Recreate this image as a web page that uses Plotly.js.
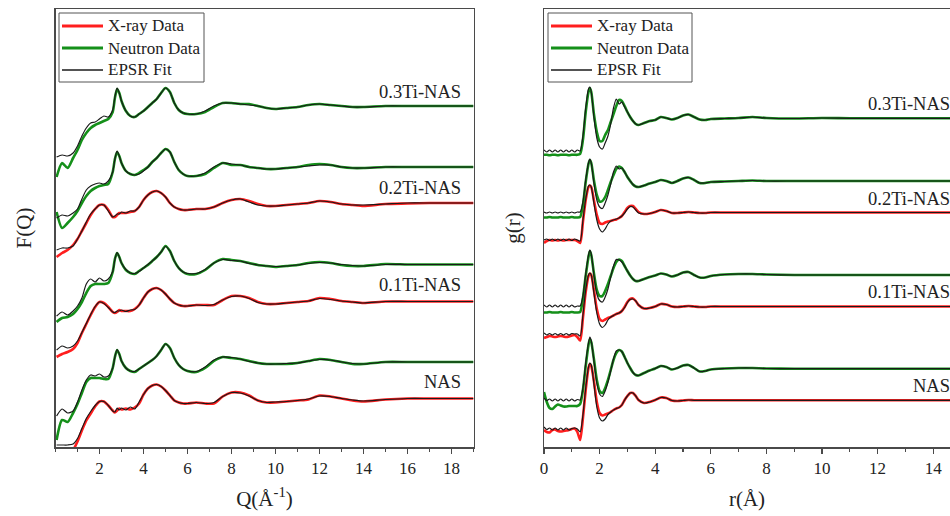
<!DOCTYPE html>
<html><head><meta charset="utf-8">
<script src="https://cdn.plot.ly/plotly-3.0.1.min.js"></script>
<style>html,body{margin:0;padding:0;background:#fff;}#chart{width:950px;height:516px;}</style>
</head><body><div id="chart"></div>
<script>
// ---------- categories ----------
const samples = ['0.3Ti-NAS', '0.2Ti-NAS', '0.1Ti-NAS', 'NAS'];
const legendNames = ['X-ray Data', 'Neutron Data', 'EPSR Fit'];

// ---------- F(Q) panel: Q grid (1/Angstrom) ----------
const Q = [0.05,0.3,0.55,0.8,1.0,1.2,1.4,1.6,1.8,2.0,2.2,2.4,2.6,2.7,2.8,2.9,3.0,3.2,3.4,3.6,3.8,4.0,4.2,4.4,4.6,4.8,5.0,5.2,5.4,5.6,5.8,6.0,6.4,6.8,7.2,7.6,8.0,8.4,8.8,9.2,9.6,10.0,10.5,11.0,11.5,12.0,12.5,13.0,13.5,14.0,15,16,17,18,19];

// 0.3Ti-NAS
const fqN_03 = [-0.71,-0.57,-0.62,-0.52,-0.44,-0.34,-0.27,-0.22,-0.19,-0.17,-0.15,-0.13,-0.06,0.08,0.17,0.13,0.05,-0.05,-0.10,-0.11,-0.08,-0.05,-0.01,0.03,0.07,0.13,0.18,0.14,0.03,-0.04,-0.07,-0.08,-0.08,-0.06,-0.01,0.03,0.03,0.02,0.02,0.00,-0.02,-0.03,-0.02,-0.01,0.01,0.02,0.01,0.00,-0.01,-0.01,0,0,0,0,0];
const fqFitN_03 = [-0.51,-0.49,-0.50,-0.47,-0.40,-0.30,-0.22,-0.17,-0.16,-0.13,-0.10,-0.11,-0.04,0.09,0.18,0.13,0.05,-0.05,-0.10,-0.11,-0.08,-0.05,-0.01,0.03,0.07,0.13,0.18,0.14,0.03,-0.04,-0.07,-0.08,-0.08,-0.05,0.00,0.03,0.03,0.02,0.01,0.00,-0.02,-0.03,-0.02,-0.01,0.01,0.02,0.01,0.00,-0.01,-0.01,0,0,0,0,0];
// 0.2Ti-NAS
const fqN_02 = [-0.45,-0.61,-0.56,-0.50,-0.44,-0.36,-0.29,-0.24,-0.21,-0.19,-0.18,-0.17,-0.05,0.08,0.15,0.11,0.04,-0.04,-0.07,-0.08,-0.06,-0.03,0.00,0.05,0.09,0.14,0.18,0.15,0.05,-0.03,-0.07,-0.09,-0.09,-0.07,-0.01,0.04,0.02,0.02,0.00,-0.01,-0.02,-0.02,-0.01,0.00,0.02,0.03,0.02,0.00,-0.01,-0.01,0,0,0,0,0];
const fqFitN_02 = [-0.51,-0.48,-0.49,-0.46,-0.42,-0.32,-0.23,-0.19,-0.17,-0.16,-0.17,-0.14,-0.05,0.08,0.16,0.11,0.04,-0.04,-0.07,-0.08,-0.07,-0.04,0.00,0.05,0.09,0.14,0.18,0.15,0.05,-0.03,-0.07,-0.09,-0.09,-0.06,0.00,0.04,0.03,0.02,0.00,-0.01,-0.02,-0.02,-0.01,0.00,0.01,0.02,0.02,0.00,-0.01,-0.01,0,0,0,0,0];
const fqX_02 = [-0.54,-0.50,-0.47,-0.42,-0.36,-0.28,-0.20,-0.12,-0.06,-0.02,-0.02,-0.07,-0.14,-0.14,-0.12,-0.10,-0.10,-0.10,-0.09,-0.08,-0.04,0.03,0.08,0.11,0.12,0.10,0.06,0.00,-0.04,-0.06,-0.07,-0.07,-0.06,-0.06,-0.04,0.00,0.03,0.04,0.02,-0.01,-0.03,-0.03,-0.02,-0.01,0.00,0.02,0.01,-0.01,-0.02,-0.03,-0.01,-0.005,0,0,0];
const fqFitX_02 = [-0.47,-0.45,-0.45,-0.43,-0.36,-0.28,-0.19,-0.11,-0.06,-0.02,-0.02,-0.08,-0.14,-0.13,-0.11,-0.11,-0.09,-0.10,-0.08,-0.08,-0.04,0.03,0.08,0.11,0.12,0.10,0.06,0.00,-0.04,-0.06,-0.07,-0.07,-0.06,-0.06,-0.04,0.00,0.03,0.04,0.01,-0.02,-0.03,-0.03,-0.02,-0.01,0.00,0.02,0.01,-0.01,-0.02,-0.02,-0.01,0,0,0,0];
// 0.1Ti-NAS
const fqN_01 = [-0.575,-0.535,-0.525,-0.495,-0.445,-0.375,-0.285,-0.215,-0.195,-0.195,-0.195,-0.185,-0.075,0.055,0.115,0.075,0.015,-0.055,-0.085,-0.095,-0.065,-0.035,-0.005,0.035,0.075,0.125,0.185,0.135,0.035,-0.035,-0.075,-0.095,-0.095,-0.055,0.015,0.055,0.045,0.035,0.015,-0.005,-0.015,-0.025,-0.015,-0.005,0.015,0.025,0.015,-0.005,-0.015,-0.015,0.005,0,0,0,0];
const fqFitN_01 = [-0.515,-0.475,-0.505,-0.465,-0.415,-0.335,-0.195,-0.145,-0.175,-0.135,-0.165,-0.145,-0.07,0.05,0.12,0.075,0.015,-0.05,-0.085,-0.09,-0.07,-0.035,0.00,0.035,0.075,0.125,0.18,0.135,0.035,-0.035,-0.075,-0.09,-0.09,-0.05,0.015,0.05,0.04,0.035,0.01,-0.005,-0.015,-0.02,-0.015,-0.005,0.01,0.02,0.015,0.00,-0.01,-0.015,0,0,0,0,0];
const fqX_01 = [-0.555,-0.525,-0.505,-0.475,-0.415,-0.315,-0.225,-0.135,-0.055,-0.005,-0.015,-0.055,-0.105,-0.115,-0.105,-0.085,-0.095,-0.095,-0.095,-0.075,-0.035,0.035,0.095,0.125,0.135,0.115,0.075,0.025,-0.015,-0.035,-0.045,-0.045,-0.035,-0.035,-0.035,0.015,0.055,0.055,0.035,-0.005,-0.025,-0.025,-0.015,-0.005,0.005,0.035,0.025,0.005,-0.005,-0.015,0,0,0,0,0];
const fqFitX_01 = [-0.485,-0.445,-0.465,-0.445,-0.395,-0.31,-0.22,-0.13,-0.05,-0.005,-0.02,-0.06,-0.105,-0.11,-0.095,-0.095,-0.085,-0.10,-0.085,-0.08,-0.035,0.035,0.095,0.125,0.135,0.115,0.075,0.025,-0.015,-0.035,-0.045,-0.045,-0.035,-0.04,-0.03,0.015,0.05,0.055,0.03,-0.01,-0.025,-0.025,-0.015,-0.005,0.005,0.03,0.02,0.005,-0.005,-0.015,0,0,0,0,0];
// NAS
const fqN_00 = [-0.78,-0.58,-0.60,-0.51,-0.42,-0.31,-0.20,-0.16,-0.16,-0.16,-0.17,-0.17,-0.06,0.05,0.12,0.08,0.01,-0.06,-0.09,-0.10,-0.07,-0.04,-0.01,0.02,0.06,0.12,0.18,0.14,0.04,-0.03,-0.07,-0.09,-0.10,-0.06,0.01,0.05,0.04,0.03,0.01,-0.01,-0.02,-0.02,-0.02,-0.01,0.01,0.03,0.02,0.00,-0.02,-0.02,0,0,0,0,0];
const fqFitN_00 = [-0.54,-0.47,-0.51,-0.49,-0.40,-0.28,-0.18,-0.13,-0.14,-0.12,-0.15,-0.14,-0.06,0.05,0.125,0.08,0.01,-0.06,-0.09,-0.095,-0.07,-0.04,-0.01,0.02,0.06,0.12,0.18,0.14,0.04,-0.03,-0.07,-0.09,-0.095,-0.05,0.02,0.05,0.045,0.03,0.005,-0.01,-0.02,-0.02,-0.015,-0.01,0.01,0.025,0.02,0.00,-0.015,-0.02,0,0,0,0,0];
const fqX_00 = [-0.82,-0.72,-0.62,-0.52,-0.43,-0.32,-0.22,-0.15,-0.08,-0.03,-0.03,-0.07,-0.12,-0.14,-0.12,-0.10,-0.11,-0.10,-0.11,-0.09,-0.05,0.04,0.10,0.13,0.14,0.12,0.08,0.03,-0.02,-0.04,-0.05,-0.05,-0.04,-0.05,-0.05,0.02,0.06,0.06,0.03,-0.02,-0.04,-0.04,-0.03,-0.02,-0.01,0.03,0.02,0.00,-0.02,-0.03,-0.01,0,0,0,0];
const fqFitX_00 = [-0.465,-0.465,-0.465,-0.455,-0.40,-0.30,-0.20,-0.13,-0.07,-0.03,-0.03,-0.07,-0.125,-0.135,-0.095,-0.115,-0.095,-0.115,-0.085,-0.105,-0.035,0.04,0.10,0.13,0.14,0.12,0.08,0.03,-0.02,-0.04,-0.05,-0.05,-0.04,-0.05,-0.04,0.02,0.06,0.055,0.025,-0.02,-0.04,-0.035,-0.03,-0.02,-0.005,0.025,0.02,0.00,-0.015,-0.025,-0.01,0,0,0,0];

// vertical stacking offsets of the F(Q) curves
const fqOffsetN = [3.41, 2.80, 1.825, 0.85];
const fqOffsetX = [null, 2.44, 1.455, 0.485];

// ---------- g(r) panel: r grid (Angstrom) ----------
const R = [0,0.1,0.2,0.3,0.4,0.5,0.6,0.7,0.8,0.9,1.0,1.1,1.2,1.3,1.4,1.5,1.6,1.65,1.7,1.8,1.9,2.0,2.1,2.2,2.3,2.4,2.5,2.6,2.7,2.8,2.9,3.0,3.1,3.2,3.3,3.4,3.6,3.8,4.0,4.2,4.4,4.6,4.8,5.0,5.2,5.4,5.6,5.8,6.0,6.5,7.0,7.5,8.0,9,10,11,12,13,14,15];

const grN_03 = [-0.365,-0.365,-0.37,-0.365,-0.365,-0.37,-0.365,-0.365,-0.365,-0.37,-0.365,-0.365,-0.365,-0.355,-0.215,0.063,0.263,0.303,0.263,0.033,-0.137,-0.227,-0.227,-0.167,-0.117,-0.037,0.043,0.123,0.183,0.173,0.123,0.063,0.013,-0.027,-0.057,-0.067,-0.047,-0.027,-0.017,0.013,0.003,-0.012,0.003,0.028,0.038,0.013,-0.012,-0.017,-0.007,-0.002,0.003,0.013,0.003,-0.002,0.003,0,0,0,0,0];
const grFitN_03 = [-0.317,-0.337,-0.317,-0.337,-0.317,-0.337,-0.317,-0.337,-0.317,-0.337,-0.317,-0.337,-0.317,-0.327,-0.177,0.103,0.293,0.313,0.263,0.003,-0.197,-0.287,-0.307,-0.247,-0.177,-0.057,0.103,0.193,0.143,0.163,0.113,0.063,0.013,-0.027,-0.057,-0.067,-0.047,-0.027,-0.017,0.013,0.003,-0.012,0.003,0.028,0.038,0.013,-0.012,-0.017,-0.007,-0.002,0.003,0.013,0.003,-0.002,0.003,0,0,0,0,0];

const grN_02 = [-0.365,-0.365,-0.36,-0.365,-0.365,-0.365,-0.36,-0.365,-0.365,-0.365,-0.36,-0.365,-0.365,-0.36,-0.24,-0.01,0.17,0.21,0.18,0.00,-0.14,-0.205,-0.20,-0.16,-0.09,-0.01,0.06,0.12,0.145,0.13,0.09,0.04,0.00,-0.035,-0.055,-0.06,-0.045,-0.025,-0.01,0.01,0.00,-0.02,0.00,0.025,0.035,0.01,-0.02,-0.02,-0.01,-0.005,0,0.005,0,0,0,0,0,0,0,0];
const grFitN_02 = [-0.31,-0.32,-0.31,-0.32,-0.31,-0.32,-0.31,-0.32,-0.31,-0.32,-0.31,-0.32,-0.31,-0.31,-0.21,0.01,0.18,0.22,0.18,-0.03,-0.19,-0.26,-0.275,-0.22,-0.14,-0.03,0.09,0.15,0.12,0.13,0.09,0.04,0.00,-0.035,-0.055,-0.06,-0.045,-0.025,-0.01,0.01,0.00,-0.02,0.00,0.025,0.035,0.01,-0.02,-0.02,-0.01,-0.005,0,0.005,0,0,0,0,0,0,0,0];
const grX_02 = [-0.305,-0.285,-0.275,-0.28,-0.275,-0.28,-0.275,-0.28,-0.275,-0.275,-0.275,-0.275,-0.285,-0.305,-0.095,0.125,0.255,0.27,0.255,0.115,-0.025,-0.105,-0.115,-0.10,-0.09,-0.085,-0.075,-0.07,-0.055,-0.035,0.005,0.045,0.065,0.065,0.035,0.005,-0.015,-0.01,0.005,0.025,0.015,-0.005,-0.005,0,0.005,0,-0.005,-0.005,0,0,0,0,0,0,0,0,0,0,0,0];
const grFitX_02 = [-0.275,-0.265,-0.28,-0.265,-0.28,-0.265,-0.28,-0.265,-0.28,-0.265,-0.28,-0.265,-0.275,-0.285,-0.075,0.135,0.265,0.275,0.255,0.085,-0.075,-0.165,-0.195,-0.165,-0.115,-0.085,-0.075,-0.065,-0.055,-0.035,-0.005,0.035,0.06,0.055,0.025,-0.005,-0.015,-0.01,0.005,0.025,0.015,-0.005,-0.005,0,0.005,0,-0.005,-0.005,0,0,0,0,0,0,0,0,0,0,0,0];

const grN_01 = [-0.375,-0.375,-0.37,-0.375,-0.375,-0.375,-0.37,-0.375,-0.375,-0.375,-0.37,-0.375,-0.375,-0.37,-0.23,-0.01,0.18,0.24,0.20,0.01,-0.15,-0.21,-0.21,-0.16,-0.09,-0.01,0.07,0.13,0.155,0.14,0.09,0.04,-0.005,-0.04,-0.06,-0.06,-0.04,-0.02,-0.005,0.015,0.005,-0.015,0,0.025,0.03,0,-0.025,-0.025,-0.01,0.005,0.01,0.01,0.005,0,0,0,0,0,0,0];
const grFitN_01 = [-0.30,-0.32,-0.30,-0.32,-0.30,-0.32,-0.30,-0.32,-0.30,-0.32,-0.30,-0.32,-0.31,-0.31,-0.21,0.01,0.20,0.25,0.21,-0.01,-0.19,-0.255,-0.27,-0.22,-0.14,-0.02,0.09,0.155,0.15,0.13,0.09,0.04,-0.005,-0.04,-0.06,-0.06,-0.04,-0.02,-0.005,0.015,0.005,-0.015,0,0.025,0.03,0,-0.025,-0.025,-0.01,0.005,0.01,0.01,0.005,0,0,0,0,0,0,0];
const grX_01 = [-0.315,-0.305,-0.295,-0.30,-0.305,-0.30,-0.295,-0.30,-0.305,-0.30,-0.29,-0.285,-0.305,-0.34,-0.115,0.145,0.305,0.33,0.315,0.155,-0.025,-0.125,-0.145,-0.13,-0.115,-0.105,-0.09,-0.075,-0.065,-0.045,-0.005,0.045,0.075,0.08,0.055,0.015,-0.02,-0.015,0,0.025,0.02,0,-0.005,0,0.005,0,-0.005,-0.005,0,0,0,0,0,0,0,0,0,0,0,0];
const grFitX_01 = [-0.265,-0.285,-0.27,-0.285,-0.27,-0.285,-0.27,-0.285,-0.27,-0.285,-0.27,-0.275,-0.275,-0.295,-0.085,0.165,0.315,0.335,0.315,0.125,-0.065,-0.175,-0.21,-0.185,-0.135,-0.105,-0.09,-0.075,-0.065,-0.045,-0.01,0.04,0.07,0.075,0.055,0.015,-0.02,-0.015,0,0.025,0.02,0,-0.005,0,0.005,0,-0.005,-0.005,0,0,0,0,0,0,0,0,0,0,0,0];

const grN_00 = [-0.233,-0.333,-0.393,-0.403,-0.378,-0.358,-0.368,-0.378,-0.378,-0.373,-0.373,-0.373,-0.373,-0.353,-0.213,0.027,0.237,0.297,0.267,0.087,-0.113,-0.223,-0.243,-0.193,-0.113,-0.013,0.087,0.157,0.187,0.172,0.117,0.057,0.007,-0.038,-0.063,-0.068,-0.043,-0.018,0.002,0.027,0.017,-0.008,0.007,0.032,0.037,0.007,-0.028,-0.023,-0.008,0.002,0.007,0.007,0.002,0,0,0,0,0,0,0];
const grFitN_00 = [-0.293,-0.318,-0.303,-0.323,-0.303,-0.323,-0.303,-0.323,-0.303,-0.323,-0.303,-0.323,-0.308,-0.313,-0.193,0.057,0.257,0.317,0.277,0.067,-0.143,-0.253,-0.278,-0.223,-0.133,-0.023,0.097,0.177,0.187,0.172,0.117,0.057,0.007,-0.038,-0.063,-0.068,-0.043,-0.018,0.002,0.027,0.017,-0.008,0.007,0.032,0.037,0.007,-0.028,-0.023,-0.008,0.002,0.007,0.007,0.002,0,0,0,0,0,0,0];
const grX_00 = [-0.297,-0.317,-0.322,-0.297,-0.292,-0.307,-0.312,-0.307,-0.302,-0.297,-0.287,-0.282,-0.317,-0.397,-0.177,0.103,0.323,0.363,0.343,0.183,-0.017,-0.127,-0.152,-0.142,-0.132,-0.117,-0.097,-0.082,-0.072,-0.047,0.003,0.043,0.073,0.073,0.043,0.003,-0.027,-0.017,0.003,0.028,0.023,-0.002,-0.007,-0.002,0.003,0,0,0,0,0,0,0,0,0,0,0,0,0,0,0];
const grFitX_00 = [-0.267,-0.292,-0.277,-0.297,-0.277,-0.297,-0.277,-0.297,-0.277,-0.297,-0.282,-0.277,-0.287,-0.317,-0.147,0.123,0.333,0.373,0.353,0.153,-0.067,-0.177,-0.207,-0.187,-0.142,-0.117,-0.097,-0.082,-0.072,-0.047,0.003,0.043,0.073,0.073,0.043,0.003,-0.027,-0.017,0.003,0.028,0.023,-0.002,-0.007,-0.002,0.003,0,0,0,0,0,0,0,0,0,0,0,0,0,0,0];

const grOffsetN = [3.287, 2.66, 1.72, 0.783];
const grOffsetX = [null, 2.345, 1.405, 0.467];

// ---------- grouping ----------
const fqNeutron = [fqN_03, fqN_02, fqN_01, fqN_00];
const fqFitNeutron = [fqFitN_03, fqFitN_02, fqFitN_01, fqFitN_00];
const fqXray = [null, fqX_02, fqX_01, fqX_00];
const fqFitXray = [null, fqFitX_02, fqFitX_01, fqFitX_00];
const grNeutron = [grN_03, grN_02, grN_01, grN_00];
const grFitNeutron = [grFitN_03, grFitN_02, grFitN_01, grFitN_00];
const grXray = [null, grX_02, grX_01, grX_00];
const grFitXray = [null, grFitX_02, grFitX_01, grFitX_00];

// ---------- styles ----------
const FONT = 'Liberation Serif, serif';
const RED = '#ff1e1e', GREEN = '#15901a', BLACK = '#1a1a1a';
const AX = '#4a4a4a';
const COLORS = [RED, GREEN, BLACK];
const WIDTHS = [2.6, 2.6, 1.2];

function curve(xs, vals, off, color, width, xa, ya, name) {
  return {
    type: 'scatter', mode: 'lines', x: xs, y: vals.map(v => v + off),
    xaxis: xa, yaxis: ya, name: name, showlegend: false,
    line: {color: color, width: width, shape: 'spline', smoothing: 0.7},
    hoverinfo: 'skip'
  };
}

function panel(xs, xray, fitX, neutron, fitN, offX, offN, xa, ya) {
  const out = [];
  xray.forEach((v, i) => { if (v) out.push(curve(xs, v, offX[i], RED, WIDTHS[0], xa, ya, legendNames[0] + ' ' + samples[i])); });
  neutron.forEach((v, i) => { out.push(curve(xs, v, offN[i], GREEN, WIDTHS[1], xa, ya, legendNames[1] + ' ' + samples[i])); });
  fitN.forEach((v, i) => { out.push(curve(xs, v, offN[i], BLACK, WIDTHS[2], xa, ya, legendNames[2] + ' ' + samples[i])); });
  fitX.forEach((v, i) => { if (v) out.push(curve(xs, v, offX[i], BLACK, WIDTHS[2], xa, ya, legendNames[2] + ' ' + samples[i])); });
  return out;
}

const data = [].concat(
  panel(Q, fqXray, fqFitXray, fqNeutron, fqFitNeutron, fqOffsetX, fqOffsetN, 'x', 'y'),
  panel(R, grXray, grFitXray, grNeutron, grFitNeutron, grOffsetX, grOffsetN, 'x2', 'y2')
);

// ---------- geometry helpers (pixel -> paper) ----------
const W = 950, PT = 9, PB = 447;
const px = v => v / W;
const py = v => (PB - v) / (PB - PT);

// sample labels
const labelYLeft = [3.55, 2.59, 1.62, 0.65];
const labelYRight = [3.43, 2.48, 1.55, 0.61];
const annotations = [];
const shapes = [];
samples.forEach((s, i) => {
  annotations.push({xref: 'paper', yref: 'y', x: px(463), y: labelYLeft[i], text: s, showarrow: false, xanchor: 'right', yanchor: 'middle', font: {family: FONT, size: 18.5, color: '#222'}});
  annotations.push({xref: 'paper', yref: 'y2', x: px(952), y: labelYRight[i], text: s, showarrow: false, xanchor: 'right', yanchor: 'middle', font: {family: FONT, size: 18.5, color: '#222'}});
});

// boxed key in each panel (drawn as shapes + text so the rows are spaced like the original)
function addKey(left, right) {
  shapes.push({type: 'rect', xref: 'paper', yref: 'paper', x0: px(left), x1: px(right), y0: py(82), y1: py(13),
    line: {color: '#555', width: 1}, fillcolor: '#fff', layer: 'above'});
  const rows = [26, 48, 70];
  legendNames.forEach((n, k) => {
    shapes.push({type: 'line', xref: 'paper', yref: 'paper', x0: px(left + 3), x1: px(left + 44), y0: py(rows[k]), y1: py(rows[k]),
      line: {color: COLORS[k], width: k === 2 ? 1.3 : 2.8}, layer: 'above'});
    annotations.push({xref: 'paper', yref: 'paper', x: px(left + 47), y: py(rows[k]), text: n, showarrow: false,
      xanchor: 'left', yanchor: 'middle', font: {family: FONT, size: 17, color: '#222'}});
  });
}
addKey(59, 204);
addKey(548, 692);

function xax(domain, range, tickvals, title) {
  return {
    domain: domain, range: range, showline: true, linecolor: AX, linewidth: 1.5, mirror: true,
    ticks: 'outside', tickvals: tickvals, ticklen: 5, tickwidth: 1.3, tickcolor: AX,
    minor: {dtick: 1, tick0: 0, ticks: 'outside', ticklen: 3, tickwidth: 1.1, tickcolor: AX, showgrid: false},
    showgrid: false, zeroline: false, automargin: false,
    tickfont: {family: FONT, size: 17, color: '#222'},
    title: {text: title, font: {family: FONT, size: 21, color: '#222'}, standoff: 14}
  };
}
function yax(anchor, mirror, title) {
  return {
    anchor: anchor, domain: [0, 1], range: [0, 4.38], showline: true, linecolor: AX, linewidth: 1.5, mirror: mirror,
    ticks: '', showticklabels: false, showgrid: false, zeroline: false, automargin: false,
    title: {text: title, font: {family: FONT, size: 21, color: '#222'}, standoff: 16}
  };
}

const layout = {
  width: 950, height: 516,
  margin: {l: 0, r: 0, t: PT, b: 516 - PB, pad: 0},
  paper_bgcolor: '#fff', plot_bgcolor: '#fff',
  font: {family: FONT, color: '#222'},
  showlegend: false,
  xaxis: Object.assign(xax([55.5 / W, 473.5 / W], [0, 19], [2, 4, 6, 8, 10, 12, 14, 16, 18], 'Q(Å<sup>-1</sup>)'), {anchor: 'y'}),
  yaxis: yax('x', true, 'F(Q)'),
  xaxis2: Object.assign(xax([544 / W, 1], [0, 14.605], [0, 2, 4, 6, 8, 10, 12, 14], 'r(Å)'), {anchor: 'y2'}),
  yaxis2: yax('x2', false, 'g(r)'),
  shapes: shapes,
  annotations: annotations
};

Plotly.newPlot('chart', data, layout, {staticPlot: true, displayModeBar: false});
</script>
</body></html>
